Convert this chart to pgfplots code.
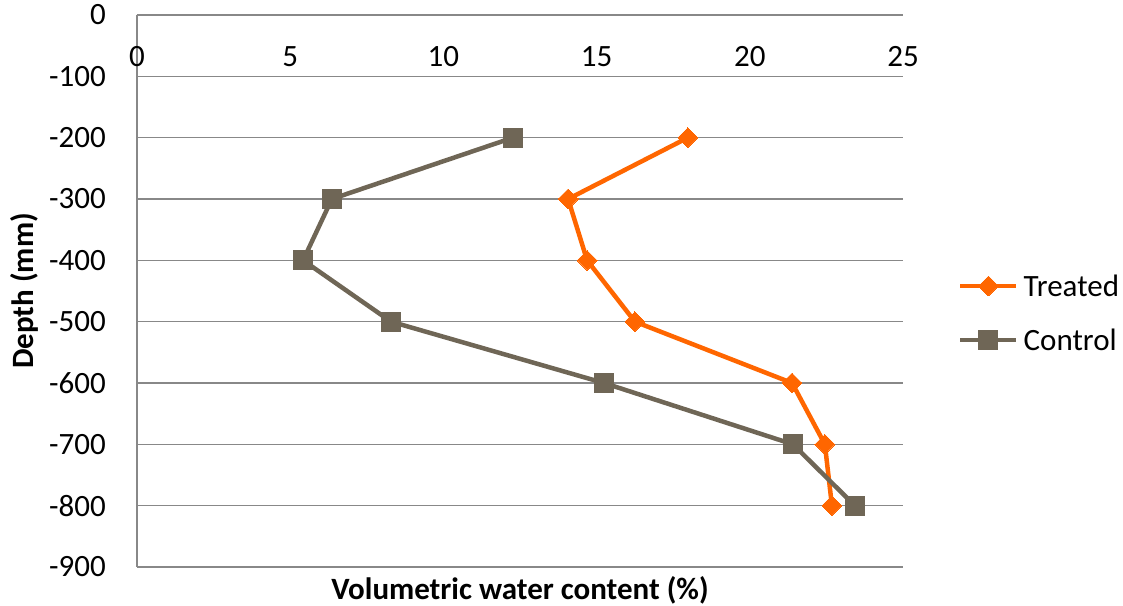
\documentclass[border=0pt]{standalone}
\usepackage{fontspec}
\setmainfont{Carlito}
\usepackage{pgfplots}
\pgfplotsset{compat=1.18}
\definecolor{treated}{HTML}{FF6600}
\definecolor{control}{HTML}{6F6656}
\definecolor{gridc}{HTML}{888888}
\begin{document}
\begin{tikzpicture}
\begin{axis}[
  scale only axis,
  width=766pt, height=552pt,
  xmin=0, xmax=25, ymin=-900, ymax=0,
  axis x line*=top, axis y line*=left,
  axis line style={gridc, line width=1.6pt},
  xtick={0,5,10,15,20,25},
  xticklabels={0,5,10,15,20,25},
  ytick={-900,-800,-700,-600,-500,-400,-300,-200,-100,0},
  yticklabels={-900,-800,-700,-600,-500,-400,-300,-200,-100,0},
  major tick length=0pt,
  ymajorgrids,
  grid style={gridc, line width=1.6pt},
  xticklabel style={anchor=center, inner sep=0pt, yshift=-42pt, font=\fontsize{31}{37}\selectfont},
  yticklabel style={anchor=east, inner sep=0pt, xshift=-31pt, font=\fontsize{31}{37}\selectfont},
  clip=false,
  legend style={at={(1.0718,0.46)}, anchor=west, draw=none, fill=none,
    font=\fontsize{31}{37}\selectfont, row sep=31pt, inner sep=0pt,
    nodes={inner sep=0pt, anchor=west}},
  legend cell align=left,
  legend image code/.code={\draw[#1, mark repeat=2, mark phase=2] plot coordinates {(0pt,0pt) (28pt,0pt) (56pt,0pt)};\path (61pt,0pt);},
]
\addplot[treated, line width=4.5pt, mark=square*, mark size=7pt, mark options={solid, line width=0pt, rotate=45}] coordinates {
(17.98,-200) (14.07,-300) (14.69,-400) (16.25,-500) (21.38,-600) (22.45,-700) (22.68,-800)};
\addlegendentry{Treated}
\addplot[control, line width=4.5pt, mark=square*, mark size=9.5pt, mark options={solid, line width=0pt}] coordinates {
(12.27,-200) (6.36,-300) (5.42,-400) (8.29,-500) (15.24,-600) (21.41,-700) (23.43,-800)};
\addlegendentry{Control}
\node[font=\fontsize{31}{37}\selectfont\bfseries] at ([yshift=-23pt]rel axis cs:0.5,0) {Volumetric water content (\%)};
\node[rotate=90, font=\fontsize{31}{37}\selectfont\bfseries] at ([xshift=-113pt]rel axis cs:0,0.5) {Depth (mm)};
\coordinate (bl) at ([xshift=-137pt,yshift=-39pt]rel axis cs:0,0);
\coordinate (tr) at ([xshift=220pt,yshift=15pt]rel axis cs:1,1);
\end{axis}
\pgfresetboundingbox
\path[use as bounding box] (bl) rectangle (tr);
\end{tikzpicture}
\end{document}
